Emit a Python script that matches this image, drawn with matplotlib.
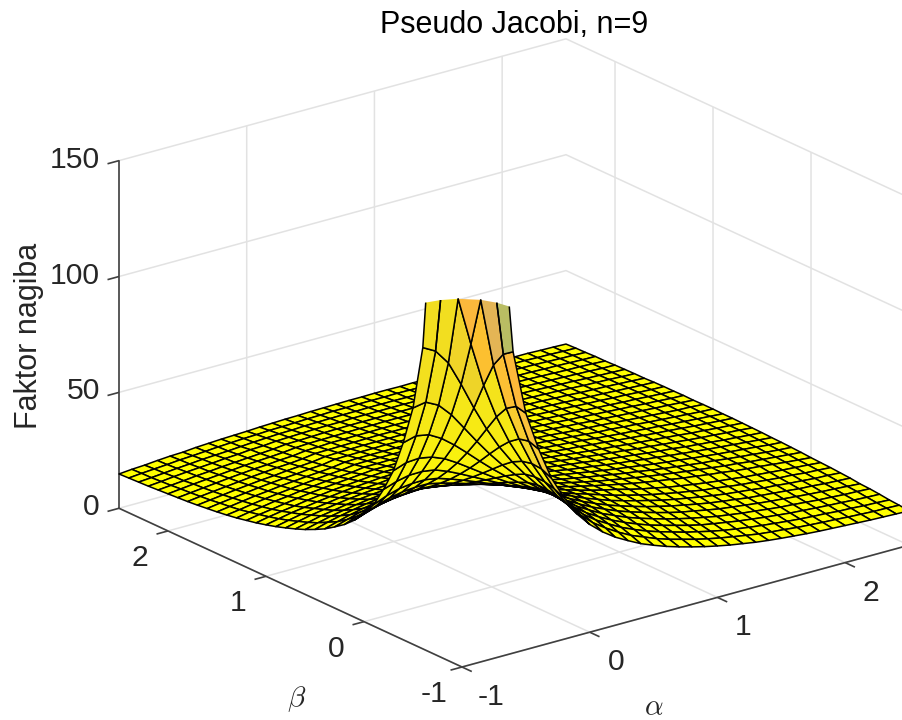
import numpy as np
import matplotlib
matplotlib.use("Agg")
import matplotlib.pyplot as plt
from mpl_toolkits.mplot3d import proj3d
from mpl_toolkits.mplot3d.art3d import Poly3DCollection, Line3DCollection

plt.rcParams['font.family'] = ['Liberation Sans', 'DejaVu Sans']
plt.rcParams['mathtext.fontset'] = 'cm'
plt.rcParams['grid.color'] = '#e2e2e2'
plt.rcParams['grid.linewidth'] = 1.1
plt.rcParams['axes.edgecolor'] = '#404040'
plt.rcParams['axes.linewidth'] = 1.2

W, H = 902, 720
ZTOP = 150

alpha = np.linspace(-1, 2.5, 36)
beta = np.linspace(-1, 2.5, 36)
alpha_ticks = [-1, 0, 1, 2]
beta_ticks = [-1, 0, 1, 2]
z_ticks = [0, 50, 100, 150]

# rows start on the diagonal, surface read as symmetric in alpha/beta
z_rows = [
[800,560,280,197,130,102,85,71,61,52.5,46.5,41.8,38,35,32.2,30,28,26.3,24.8,23.4,22.2,21.1,20.2,19.3,18.6,18,17.5,17,16.6,16.3,16,15.7,15.4,15.2,15,14.8],
[400,230,172,127,103,86.5,73,62.9,54.8,48.7,43.8,40,36.7,33.8,31.6,29.4,27.6,26.1,24.6,23.3,22.2,21.2,20.3,19.4,18.8,18.3,17.7,17.3,16.9,16.6,16.2,15.9,15.6,15.5,15.3],
[188,150,120.4,100.2,85.5,73.4,64.1,56.4,50.4,45.5,41.5,38.3,35.3,32.9,30.7,28.9,27.3,25.7,24.4,23.1,22,21.1,20.3,19.6,19,18.4,17.9,17.5,17.2,16.7,16.5,16.1,15.9,15.6],
[129,109.7,94.6,82.4,72.4,64.2,57.1,51.5,46.7,42.7,39.4,36.5,34,31.8,29.8,28.2,26.7,25.2,23.9,22.9,22,21.1,20.4,19.7,19.1,18.5,18.1,17.7,17.3,17,16.6,16.3,16.1],
[98,87.4,78.1,70.2,63.4,57.2,52,47.4,43.6,40.4,37.4,35,32.7,30.8,29.1,27.5,26.1,24.8,23.7,22.6,21.8,21,20.4,19.7,19.1,18.7,18.2,17.7,17.4,17,16.8,16.5],
[80.1,73.2,66.9,61.3,56.3,52,47.8,44.1,41,38.2,35.8,33.5,31.6,29.9,28.3,26.8,25.5,24.5,23.4,22.4,21.7,21,20.3,19.7,19.2,18.7,18.2,17.8,17.5,17.1,16.7],
[68.1,63.2,58.7,54.5,50.8,47.4,44.4,41.4,38.7,36.3,34.1,32.2,30.5,28.9,27.5,26.2,25.1,24,23,22.2,21.5,20.7,20.2,19.7,19.2,18.6,18.3,17.8,17.5,17.2],
[59.5,55.9,52.5,49.3,46.3,43.7,41.3,39,36.6,34.6,32.6,31,29.5,28.1,26.7,25.6,24.6,23.6,22.7,21.9,21.3,20.7,20,19.6,19,18.6,18.1,17.9,17.5],
[53.1,50.3,47.6,45.1,42.8,40.5,38.5,36.6,34.9,33.1,31.4,29.9,28.5,27.2,26.1,25,24.1,23.1,22.5,21.7,21,20.5,19.9,19.4,19.1,18.5,18.2,17.8],
[48.1,45.9,43.7,41.7,39.8,37.9,36.3,34.6,33.1,31.7,30.5,29,27.7,26.6,25.4,24.5,23.6,22.8,22.1,21.5,20.8,20.3,19.8,19.3,18.9,18.5,18],
[44.1,42.3,40.6,38.8,37.3,35.7,34.2,32.9,31.6,30.4,29.2,28.1,27.1,26.2,25.3,24.4,23.7,22.9,22.3,21.5,20.9,20.4,19.8,19.2,18.7,18.2],
[40.8,39.3,37.8,36.5,35,33.8,32.5,31.3,30.1,29.1,28.1,27.1,26.2,25.4,24.6,23.8,23.1,22.4,21.7,21.2,20.5,20,19.5,19,18.5],
[38.1,36.8,35.6,34.3,33.2,32,31,29.9,29,28,27.1,26.3,25.4,24.6,23.9,23.2,22.5,22,21.3,20.7,20.2,19.6,19.1,18.7],
[35.7,34.7,33.6,32.5,31.5,30.6,29.7,28.7,27.8,27,26.2,25.4,24.6,23.9,23.3,22.6,22,21.4,20.9,20.4,19.9,19.3,18.9],
[33.8,32.9,31.9,31.1,30.2,29.2,28.4,27.6,26.8,26,25.4,24.6,24,23.3,22.7,22.1,21.5,21,20.5,20,19.5,19],
[32,31.3,30.4,29.7,28.9,28.1,27.4,26.6,25.9,25.2,24.6,23.9,23.3,22.8,22.1,21.6,21.1,20.5,20.1,19.6,19.2],
[30.5,29.8,29.1,28.4,27.7,27,26.4,25.7,25.1,24.5,23.8,23.3,22.7,22.2,21.6,21.1,20.7,20.2,19.8,19.3],
[29.2,28.6,27.9,27.3,26.7,26,25.4,24.8,24.3,23.7,23.2,22.7,22.2,21.7,21.1,20.7,20.2,19.8,19.4],
[28,27.5,27,26.3,25.7,25.3,24.7,24.2,23.6,23.1,22.6,22.1,21.7,21.2,20.7,20.3,19.9,19.5],
[27,26.5,25.9,25.4,25,24.5,23.9,23.4,22.9,22.5,22,21.6,21.1,20.7,20.3,19.9,19.5],
[26,25.6,25.2,24.6,24.2,23.7,23.2,22.9,22.4,22,21.5,21.1,20.7,20.3,19.9,19.6],
[25.2,24.8,24.4,23.9,23.4,23.1,22.7,22.3,21.8,21.4,21,20.6,20.2,20,19.6],
[24.4,24,23.7,23.2,22.9,22.4,22.1,21.7,21.3,21,20.6,20.3,19.9,19.5],
[23.7,23.3,23,22.6,22.3,21.9,21.6,21.2,20.9,20.5,20.2,19.8,19.6],
[23,22.7,22.4,22,21.7,21.4,21.1,20.7,20.5,20.1,19.8,19.5],
[22.4,22.1,21.9,21.5,21.2,21,20.6,20.4,20,19.7,19.5],
[21.9,21.6,21.3,21,20.7,20.5,20.2,19.9,19.6,19.4],
[21.4,21.1,20.9,20.5,20.3,20.1,19.8,19.5,19.2],
[20.9,20.7,20.4,20.1,19.9,19.7,19.4,19.2],
[20.4,20.2,20,19.7,19.5,19.3,19.1],
[20,19.8,19.6,19.4,19.1,19],
[19.6,19.4,19.3,19.1,18.8],
[19.3,19.1,18.9,18.8],
[18.9,18.8,18.6],
[18.6,18.5],
[18.3],
]

# cells of the hump with their own colour, (alpha cell, beta cell)
cell_colors = {
    (3, 0): '#b9bd63', (4, 0): '#fdb93a', (5, 0): '#fcc23c', (6, 0): '#f8cc38', (7, 0): '#f6d430',
    (3, 1): '#e4b555', (4, 1): '#fcc034', (5, 1): '#f8cc30', (6, 1): '#f4d82a',
    (2, 2): '#fcb83c', (3, 2): '#fcc030', (2, 3): '#f0d428', (3, 3): '#eed428',
}

Z = np.zeros((36, 36))
for i in range(36):
    for k in range(len(z_rows[i])):
        Z[i][i + k] = z_rows[i][k]
        Z[i + k][i] = z_rows[i][k]


def clip_poly(pts):
    out = []
    for n in range(len(pts)):
        p = pts[n]
        q = pts[(n + 1) % len(pts)]
        if p[2] <= ZTOP:
            out.append(p)
        if (p[2] <= ZTOP) != (q[2] <= ZTOP):
            t = (ZTOP - p[2]) / (q[2] - p[2])
            out.append((p[0] + t * (q[0] - p[0]), p[1] + t * (q[1] - p[1]), ZTOP))
    return out


def clip_seg(p, q):
    if p[2] > ZTOP and q[2] > ZTOP:
        return None
    if p[2] > q[2]:
        p, q = q, p
    if q[2] > ZTOP:
        t = (ZTOP - p[2]) / (q[2] - p[2])
        q = (p[0] + t * (q[0] - p[0]), p[1] + t * (q[1] - p[1]), ZTOP)
    return [p, q]


def cell_color(i, j, zm):
    if (i, j) in cell_colors:
        return cell_colors[(i, j)]
    c = [np.interp(zm, [35, 120], [255, 242]),
         np.interp(zm, [35, 120], [255, 222]),
         np.interp(zm, [35, 120], [0, 32])]
    return (c[0] / 255, c[1] / 255, c[2] / 255)


polys = []
faces = []
edges = []
top_lines = []
for i in range(35):
    for j in range(35):
        pts = [(alpha[i], beta[j], Z[i][j]), (alpha[i + 1], beta[j], Z[i + 1][j]),
               (alpha[i + 1], beta[j + 1], Z[i + 1][j + 1]), (alpha[i], beta[j + 1], Z[i][j + 1])]
        zm = np.mean([p[2] for p in pts])
        if max(p[2] for p in pts) <= ZTOP:
            polys.append(pts)
            faces.append(cell_color(i, j, zm))
            edges.append('black')
        else:
            cut = clip_poly(pts)
            if len(cut) >= 3:
                polys.append(cut)
                faces.append(cell_color(i, j, zm))
                edges.append((0, 0, 0, 0))
                for n in range(4):
                    s = clip_seg(pts[n], pts[(n + 1) % 4])
                    if s is not None:
                        top_lines.append(s)

fig = plt.figure(figsize=(W / 100, H / 100), dpi=100)
ax = fig.add_axes([0, 0, 1, 1], projection='3d', proj_type='ortho', computed_zorder=False)
ax.view_init(elev=20.8, azim=-127.5)
ax.set_box_aspect((1, 1, 0.66))
ax.set_xlim(-1, 2.5)
ax.set_ylim(-1, 2.5)
ax.set_zlim(0, ZTOP)
ax.set_xticks(alpha_ticks)
ax.set_yticks(beta_ticks)
ax.set_zticks(z_ticks)
ax.set_xticklabels([''] * 4)
ax.set_yticklabels([''] * 4)
ax.set_zticklabels([''] * 4)

for axis in [ax.xaxis, ax.yaxis, ax.zaxis]:
    axis.set_pane_color((1, 1, 1, 0))
    axis.pane.set_edgecolor((1, 1, 1, 0))
    axis._axinfo['tick']['inward_factor'] = 0
    axis._axinfo['tick']['outward_factor'] = 0

# outward tick marks
tick_segs = []
for a in alpha_ticks:
    tick_segs.append([(a, -1, 0), (a, -1.1, 0)])
for b in beta_ticks:
    tick_segs.append([(-1, b, 0), (-1.09, b, 0)])
for z in z_ticks:
    tick_segs.append([(-1, 2.5, z), (-1.09, 2.5, z)])
ax.add_collection3d(Line3DCollection(tick_segs, colors='#404040', linewidths=1.2, zorder=1))

surf = Poly3DCollection(polys, facecolors=faces, edgecolors=edges, linewidths=1.1, zsort='average', zorder=2)
ax.add_collection3d(surf)
ax.add_collection3d(Line3DCollection(top_lines, colors='black', linewidths=1.1, zorder=3))


def to_px(a, b, z):
    xp, yp, _ = proj3d.proj_transform(a, b, z, ax.get_proj())
    return ax.transData.transform((xp, yp))


# fit the box on the reference corners, it runs a bit past the right side
s, x0, y0 = 800.0, 50.0, -50.0
for n in range(4):
    ax.set_position([x0 / W, y0 / H, s / W, s / H])
    ax.apply_aspect()
    p0 = to_px(-1, -1, 0)
    p1 = to_px(-1, 2.5, 0)
    k = 343.0 / (p0[0] - p1[0])
    x0 = 462 - (p0[0] - x0) * k
    y0 = (H - 667) - (p0[1] - y0) * k
    s = s * k
ax.set_position([x0 / W, y0 / H, s / W, s / H])
ax.apply_aspect()

for a in alpha_ticks:
    p = to_px(a, -1, 0)
    off = 29 if a < 0 else 26
    fig.text((p[0] + off) / W, (p[1] - 30) / H, str(a), ha='center', va='center', fontsize=21.7, color='#262626')
for b in beta_ticks:
    p = to_px(-1, b, 0)
    fig.text((p[0] - 28) / W, (p[1] - 27) / H, str(b), ha='center', va='center', fontsize=21.7, color='#262626')
for z in z_ticks:
    p = to_px(-1, 2.5, z)
    fig.text((p[0] - 19) / W, (p[1] + 1) / H, str(z), ha='right', va='center', fontsize=21.7, color='#262626')

fig.text(514 / W, 1 - 25 / H, 'Pseudo Jacobi, n=9', ha='center', va='center', fontsize=22, color='black')
fig.text(29 / W, 1 - 336 / H, 'Faktor nagiba', rotation=90, ha='center', va='center', fontsize=22, color='#262626')
fig.text(297 / W, 1 - 699 / H, r'$\beta$', ha='center', va='center', fontsize=21, color='#262626')
fig.text(654 / W, 1 - 707 / H, r'$\alpha$', ha='center', va='center', fontsize=21, color='#262626')

fig.savefig('out.png', dpi=100)
